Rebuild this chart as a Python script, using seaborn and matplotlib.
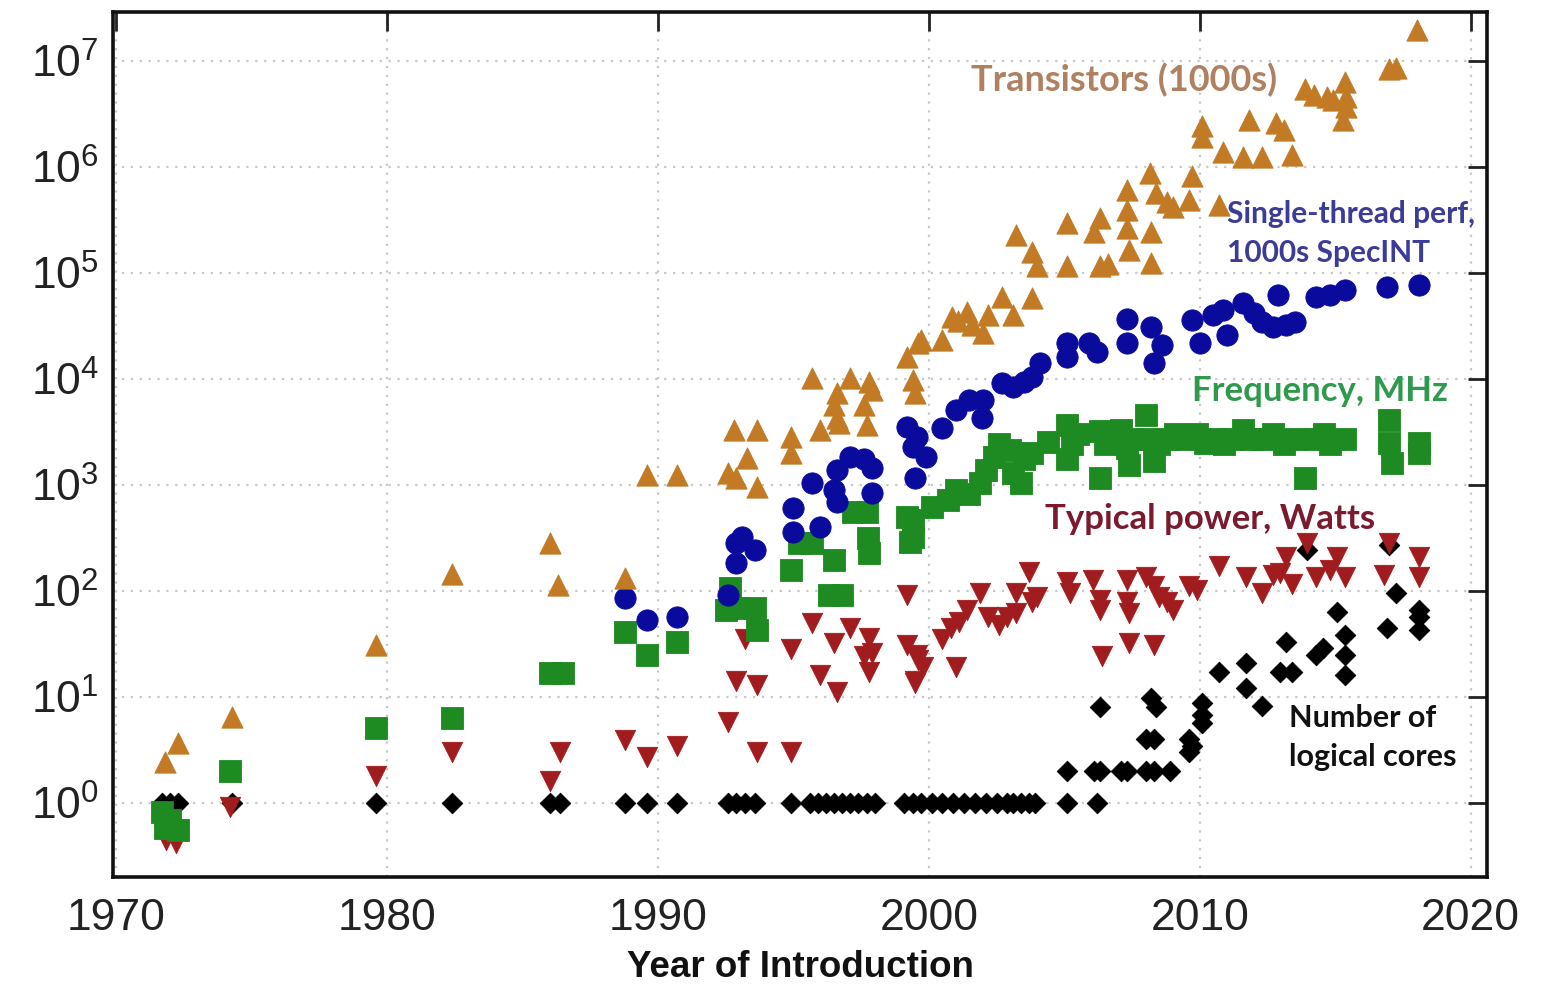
import numpy as np
import pandas as pd
import matplotlib
matplotlib.use("Agg")
import matplotlib.pyplot as plt
import seaborn as sns

# ---- data: year of introduction and value for each trend ----
transistor_years = [1971.8, 1972.3, 1974.3, 1979.6, 1982.4, 1986.0, 1986.3, 1988.8,
                    1989.6, 1990.7, 1992.6, 1992.9, 1992.8, 1993.65, 1993.3, 1993.65,
                    1994.9, 1994.9, 1995.7, 1996.0, 1996.6, 1996.5, 1996.6, 1996.7,
                    1997.1, 1997.6, 1997.7, 1997.8, 1997.9,
                    1999.2, 1999.4, 1999.5, 1999.6, 1999.7, 2000.5,
                    2000.85, 2001.07, 2001.4, 2001.6, 2002.0, 2002.2,
                    2002.7, 2003.1, 2003.8, 2003.2, 2003.8, 2004.0,
                    2005.1, 2005.1, 2006.3, 2006.1, 2006.3, 2006.6,
                    2007.3, 2007.3, 2007.3, 2007.4, 2008.2, 2008.2,
                    2008.15, 2008.4, 2008.8, 2009.0, 2009.7, 2009.6, 2010.7,
                    2010.1, 2010.1, 2010.85, 2011.6, 2012.3, 2013.4, 2011.8, 2012.8, 2013.1,
                    2013.9, 2014.2, 2014.7, 2014.9, 2015.35, 2015.4, 2015.4, 2015.3,
                    2017.0, 2017.25, 2018.0]
transistor_values = [2.4, 3.7, 6.5, 31, 145, 280, 114, 132,
                     1240, 1240, 1290, 1170, 3300, 3300, 1780, 960,
                     2830, 2000, 10200, 3300, 7400, 5660, 4300, 3800,
                     10200, 5660, 3700, 9300, 7900,
                     16200, 9800, 7400, 21900, 23400, 23400,
                     38000, 34700, 42700, 32400, 26900, 39800,
                     59000, 40000, 58000, 229000, 158000, 115000,
                     295000, 115000, 331000, 240000, 115000, 120000,
                     600000, 390000, 265000, 165000, 245000, 123000,
                     870000, 565000, 470000, 420000, 810000, 490000, 436000,
                     2.4e6, 1.9e6, 1.38e6, 1.23e6, 1.23e6, 1.29e6, 2.75e6, 2.6e6, 2.2e6,
                     5.4e6, 4.8e6, 4.6e6, 4.3e6, 6.3e6, 4.6e6, 3.7e6, 2.75e6,
                     8.3e6, 8.5e6, 19.5e6]

perf_years = [1988.8, 1989.6, 1990.7, 1992.6, 1992.9, 1993.1, 1993.6, 1992.9,
              1995.0, 1995.0, 1996.0, 1995.7, 1996.6, 1996.6, 1997.1, 1997.6, 1997.9, 1997.9, 1996.5,
              1999.2, 1999.4, 1999.5, 1999.55, 1999.9, 2000.5,
              2001.0, 2001.5, 2002.0, 2001.95,
              2002.7, 2003.1, 2003.5, 2003.8, 2004.1,
              2005.1, 2005.1, 2005.9, 2006.2,
              2007.3, 2007.3, 2008.2, 2008.6, 2008.3,
              2009.7, 2010.5, 2010.0, 2011.0, 2010.85, 2011.6, 2012.0, 2012.3, 2012.7,
              2013.2, 2013.5, 2012.9,
              2014.3, 2014.8, 2015.35, 2016.9, 2018.1]
perf_values = [86, 53, 57, 92, 183, 325, 245, 284,
               600, 360, 400, 1050, 1380, 690, 1820, 1740, 1450, 835, 890,
               3500, 2290, 1170, 2800, 1820, 3450,
               5100, 6300, 6300, 4300,
               9100, 8400, 9400, 10500, 14100,
               21900, 16200, 21900, 17800,
               36300, 21900, 30900, 20900, 14100,
               36000, 40000, 21900, 26000, 45000, 52000, 42000, 34000, 31000,
               32000, 34000, 62000,
               59000, 62000, 69000, 74000, 77000]

freq_years = [1971.7, 1972.0, 1971.8, 1972.3, 1974.2, 1979.6, 1982.4, 1986.0, 1986.5,
              1988.8, 1989.6, 1990.7, 1992.65, 1992.9, 1993.6, 1993.65, 1992.5,
              1994.9, 1995.2, 1995.7, 1996.5, 1996.3, 1996.8, 1997.2, 1997.7, 1997.75, 1997.8,
              1999.2, 1999.3, 1999.4, 1999.4,
              2000.1, 2000.7, 2001.0, 2001.5, 2001.9, 2002.1, 2002.4, 2002.6, 2003.0,
              2003.1, 2003.4, 2003.5, 2003.8, 2004.4,
              2005.1, 2005.1, 2005.3, 2005.5, 2006.3, 2006.3, 2006.5, 2007.1, 2007.3,
              2007.5, 2007.4, 2008.0, 2008.1, 2008.3, 2008.5, 2008.8, 2009.1, 2009.5,
              2009.9, 2010.2, 2010.6, 2010.9, 2011.2, 2011.6, 2011.9, 2012.3, 2012.7,
              2013.1, 2013.5, 2013.9, 2014.2, 2014.6, 2014.8, 2015.35,
              2017.0, 2017.0, 2017.1, 2018.1, 2018.1]
freq_values = [0.81, 0.69, 0.58, 0.55, 2.0, 5.1, 6.3, 16.8, 16.8,
               41, 25, 33, 107, 69, 69, 43, 66,
               158, 283, 283, 195, 92, 92, 550, 550, 316, 229,
               500, 290, 470, 320,
               620, 720, 890, 810, 1050, 1380, 1820, 2400, 2140,
               1290, 1050, 1740, 2000, 2510,
               3700, 1740, 2400, 3000, 3200, 1170, 2400, 3300, 2200,
               2700, 1550, 4600, 2700, 1660, 2400, 2700, 3000, 2700,
               3000, 2500, 2700, 2400, 2700, 3300, 2700, 2700, 3000,
               2400, 2700, 1170, 2700, 3000, 2400, 2700,
               4100, 2500, 1620, 2500, 2000]

power_years = [1971.85, 1972.2, 1974.2, 1979.6, 1982.4, 1986.4, 1986.0,
               1988.8, 1989.6, 1990.7, 1992.6, 1992.9, 1993.65, 1993.2, 1993.65, 1994.9, 1994.9,
               1995.7, 1996.0, 1996.5, 1996.6, 1997.1, 1997.8, 1997.9, 1997.6, 1997.8,
               1999.2, 1999.2, 1999.55, 1999.8, 1999.5, 1999.6, 1999.5,
               2001.0, 2000.5, 2000.8, 2001.1, 2001.4, 2001.9, 2002.2, 2002.6, 2002.9,
               2003.2, 2003.2, 2003.7, 2003.8, 2004.0,
               2005.1, 2005.2, 2006.05, 2006.3, 2006.3, 2007.3, 2007.3, 2007.4, 2008.0,
               2008.3, 2008.5, 2008.8, 2009.0,
               2006.4, 2007.4, 2008.3,
               2009.6, 2009.9, 2010.7,
               2011.7, 2012.3, 2012.7, 2012.95, 2013.2, 2013.4, 2013.95, 2014.3, 2014.8,
               2015.05, 2015.35, 2017.0, 2016.8, 2018.1, 2018.1]
power_values = [0.45, 0.42, 0.92, 1.8, 3.0, 3.0, 1.6,
                3.9, 2.7, 3.4, 5.8, 14, 13, 35, 3.0, 3.0, 28,
                50, 16, 32, 11, 45, 36, 26, 24, 17,
                92, 31, 25, 19, 14, 22, 13.5,
                19, 35, 45, 51, 66, 96, 56, 48, 56,
                96, 62, 151, 78, 87,
                120, 96, 126, 82, 66, 126, 78, 62, 135,
                110, 87, 78, 66,
                24, 32, 31,
                110, 102, 170,
                135, 96, 141, 148, 209, 115, 282, 135, 158,
                209, 135, 282, 141, 209, 135]

core_years = [1971.7, 1972.0, 1972.3, 1974.3, 1979.6, 1982.4, 1986.0, 1986.4, 1988.8,
              1989.6, 1990.7, 1992.6, 1992.9, 1993.2, 1993.6, 1994.9, 1995.6, 1995.9,
              1996.2, 1996.5, 1996.8, 1997.1, 1997.4, 1997.7, 1998.0, 1999.1, 1999.4,
              1999.7, 2000.1, 2000.5, 2000.9, 2001.3, 2001.7, 2002.1, 2002.5, 2002.9,
              2003.1, 2003.4, 2003.7, 2003.9, 2005.1, 2006.2,
              2005.1, 2006.1, 2006.3, 2007.1, 2007.3, 2008.0, 2008.3, 2008.9,
              2008.0, 2008.3, 2009.6, 2009.7, 2009.6,
              2006.3, 2008.4, 2008.2, 2010.1, 2010.1, 2010.1,
              2010.7, 2011.7, 2011.7, 2012.3, 2013.2, 2012.95, 2013.4, 2014.3, 2014.55,
              2015.35, 2015.35, 2015.35, 2015.05, 2013.95,
              2017.25, 2016.9, 2018.1, 2018.1, 2018.1, 2017.0]
core_values = [1, 1, 1, 1, 1, 1, 1, 1, 1,
               1, 1, 1, 1, 1, 1, 1, 1, 1,
               1, 1, 1, 1, 1, 1, 1, 1, 1,
               1, 1, 1, 1, 1, 1, 1, 1, 1,
               1, 1, 1, 1, 1, 1,
               2, 2, 2, 2, 2, 2, 2, 2,
               4, 4, 4, 3.4, 3.0,
               8, 8, 9.8, 8.8, 6.8, 5.7,
               17, 21, 12, 8.1, 33, 17, 17, 25, 29,
               38, 25, 16, 63, 244,
               96, 45, 66, 56, 43, 272]

# ---- styling ----
sns.set_theme(style="white")
plt.rcParams["font.family"] = ["Liberation Sans", "DejaVu Sans"]
plt.rcParams["mathtext.default"] = "regular"

fig = plt.figure(figsize=(15.53, 9.88), dpi=100)
ax = fig.add_axes([113 / 1553, 1 - 877 / 988, (1487 - 113) / 1553, (877 - 12) / 988])

series = [
    (core_years, core_values, "D", "#000000", 110),
    (power_years, power_values, "v", "#a11c1e", 215),
    (freq_years, freq_values, "s", "#1d8a22", 245),
    (perf_years, perf_values, "o", "#0a0a9c", 235),
    (transistor_years, transistor_values, "^", "#c27a24", 235),
]
for xs, ys, mk, col, size in series:
    df = pd.DataFrame({"year": xs, "value": ys})
    sns.scatterplot(data=df, x="year", y="value", marker=mk, color=col, s=size,
                    edgecolor=col, linewidth=0.6, ax=ax, zorder=3, legend=False)

ax.set_yscale("log")
ax.set_xlim(1969.89, 2020.6)
ax.set_ylim(10 ** -0.70, 10 ** 7.46)
ax.set_xticks([1970, 1980, 1990, 2000, 2010, 2020])
ax.set_yticks([10.0 ** k for k in range(8)])
ax.set_yticklabels([rf"$10^{{{k}}}$" for k in range(8)])
ax.yaxis.set_minor_locator(matplotlib.ticker.NullLocator())

ax.grid(True, which="major", color="#c8c8c8", linestyle=(0, (1, 3)), linewidth=1.6)
ax.set_axisbelow(True)
for sp in ax.spines.values():
    sp.set_visible(True)
    sp.set_linewidth(2.6)
    sp.set_color("#111111")
ax.tick_params(axis="both", which="major", direction="in", length=14, width=2,
               color="#222222", top=True, right=True, labelsize=32,
               labelcolor="#222222")
ax.tick_params(axis="x", pad=15)
ax.tick_params(axis="y", pad=10)

ax.set_xlabel("Year of Introduction", fontsize=26.5, fontweight="bold",
              color="#111111", labelpad=8)
ax.set_ylabel("")

# ---- series annotations ----
lab_font = ["Lato", "DejaVu Sans"]
ax.text(2007.2, 10 ** 6.82, "Transistors (1000s)", color="#b08060", fontsize=26,
        fontweight="bold", family=lab_font, ha="center", va="center")
ax.text(2011.0, 10 ** 5.55, "Single-thread perf,", color="#3b3b98", fontsize=21.5,
        fontweight="bold", family=lab_font, ha="left", va="center")
ax.text(2011.0, 10 ** 5.19, "1000s SpecINT", color="#3b3b98", fontsize=21.5,
        fontweight="bold", family=lab_font, ha="left", va="center")
ax.text(2009.7, 10 ** 3.88, "Frequency, MHz", color="#2f9a4c", fontsize=25,
        fontweight="bold", family=lab_font, ha="left", va="center")
ax.text(2004.3, 10 ** 2.68, "Typical power, Watts", color="#7a1a2c", fontsize=25,
        fontweight="bold", family=lab_font, ha="left", va="center")
ax.text(2013.3, 10 ** 0.80, "Number of", color="#111111", fontsize=22,
        fontweight="bold", family=lab_font, ha="left", va="center")
ax.text(2013.3, 10 ** 0.43, "logical cores", color="#111111", fontsize=22,
        fontweight="bold", family=lab_font, ha="left", va="center")

fig.savefig("out.png", dpi=100, facecolor="white")
